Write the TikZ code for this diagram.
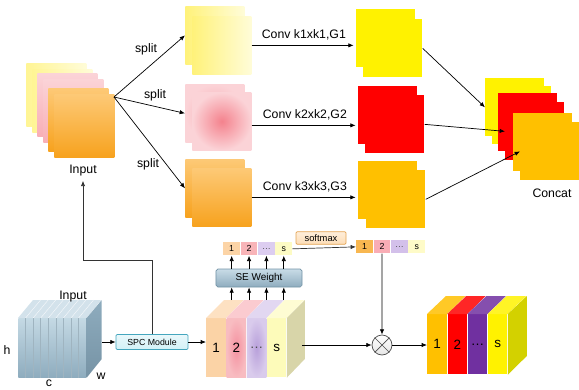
\documentclass[tikz,border=0pt]{standalone}
\usepackage{fontspec}
\setmainfont{Liberation Sans}
\usetikzlibrary{arrows.meta, positioning}
% colours
\definecolor{ylwA}{HTML}{FFF27A}
\definecolor{ylwB}{HTML}{FFFCD8}
\definecolor{pnkA}{HTML}{F4828D}
\definecolor{pnkB}{HTML}{FBD3D7}
\definecolor{orgA}{HTML}{FDC976}
\definecolor{orgB}{HTML}{F7A21E}
\definecolor{steelA}{HTML}{C4D9E4}
\definecolor{steelB}{HTML}{8EACBE}
\definecolor{steelC}{HTML}{7693A5}
\definecolor{spcfill}{HTML}{D3F1F7}
\definecolor{spcdraw}{HTML}{45A6BE}
\definecolor{sefill}{HTML}{C9DCE7}
\definecolor{sedraw}{HTML}{7393A6}
\definecolor{smaxfill}{HTML}{FDDDB6}
\definecolor{smaxdraw}{HTML}{E4A453}
\definecolor{ppl}{HTML}{7030A0}
\definecolor{gold}{HTML}{FFC000}
\definecolor{olive}{HTML}{D3D100}
\definecolor{khaki}{HTML}{D8D5A9}
\tikzset{%
  >={Latex[width=1.3mm,length=1.6mm]},
  % Specifications for style of nodes:
  base/.style = {inner sep=0pt, text centered},
  sheet/.style = {base, rectangle, anchor=north west,
    minimum width=1.77cm, minimum height=1.74cm},
  insheet/.style = {sheet, minimum width=1.8cm, minimum height=1.89cm},
  stripe/.style = {base, rectangle, minimum width=0.585cm,
    minimum height=1.77cm, font=\fontsize{11.5}{13}\selectfont},
  wbox/.style = {base, rectangle, minimum width=0.5cm,
    minimum height=0.39cm, font=\fontsize{7.5}{8}\selectfont},
  tag/.style = {base, rectangle, draw, font=\fontsize{7.5}{9}\selectfont},
}

\begin{document}
\begin{tikzpicture}[
  x=0.03cm, y=-0.03cm,
  line width=0.6pt,
  font=\fontsize{10.5}{12}\selectfont,
  node distance=0pt,
  ]
  \useasboundingbox (0,0) rectangle (579,390);
  % input stack
  \node (iny1) [insheet, left color=ylwA!80!white, right color=ylwB] at (26,63) {};
  \node (iny2) [insheet, left color=ylwA!80!white, right color=ylwB] at (32,69) {};
  \node (inp1) [insheet, top color=pnkB, bottom color=pnkA!45!pnkB] at (37,73) {};
  \node (inp2) [insheet, top color=pnkB, bottom color=pnkA!45!pnkB] at (43,79) {};
  \node (ino1) [insheet, top color=orgA, bottom color=orgB] at (48,88) {};
  \node (ino2) [insheet, top color=orgA, bottom color=orgB] at (54,94) {};
  \node (inlbl) at (83,171) {Input};
  % split groups
  \node (mid1b) [sheet, left color=ylwA, right color=ylwB] at (185,6) {};
  \node (mid1f) [sheet, left color=ylwA, right color=ylwB] at (192,16) {};
  \node (mid2b) [sheet, inner color=pnkA!50!pnkB, outer color=pnkB] at (185,84) {};
  \node (mid2f) [sheet, inner color=pnkA, outer color=pnkB] at (192,92) {};
  \node (mid3b) [sheet, top color=orgA, bottom color=orgB] at (185,159) {};
  \node (mid3f) [sheet, top color=orgA, bottom color=orgB] at (192,168) {};
  % conv outputs
  \node (out1b) [sheet, fill=yellow] at (356,9) {};
  \node (out1f) [sheet, fill=yellow] at (363,19) {};
  \node (out2b) [sheet, fill=red] at (358,86) {};
  \node (out2f) [sheet, fill=red] at (365,95) {};
  \node (out3b) [sheet, fill=gold] at (358,161) {};
  \node (out3f) [sheet, fill=gold] at (366,170) {};
  % concat
  \node (cat1b) [sheet, fill=yellow] at (485,78) {};
  \node (cat1f) [sheet, fill=yellow] at (492,86) {};
  \node (cat2b) [sheet, fill=red] at (498,93) {};
  \node (cat2f) [sheet, fill=red] at (505,102) {};
  \node (cat3b) [sheet, fill=gold] at (513,113) {};
  \node (cat3f) [sheet, fill=gold] at (520,122) {};
  \node (catlbl) at (552,193) {Concat};

  % input cube
  \node (incube) [base, rectangle, anchor=north west, minimum width=2.04cm,
    minimum height=1.77cm, top color=steelA, bottom color=steelB] at (18,318) {};
  \fill[steelA!75!white] (incube.north west) -- ++(15,-18) -- ++(2.04cm,0)
    -- (incube.north east) -- cycle;
  \shade[top color=steelB, bottom color=steelC] (incube.north east) -- ++(15,-18)
    -- ++(0,59) -- (incube.south east) -- cycle;
  \foreach \i in {1,...,8} {
    \draw[steelC!70!white, line width=0.4pt] ([xshift=\i*0.227cm]incube.north west)
      -- ([xshift=\i*0.227cm]incube.south west);
    \draw[white!80!steelA, line width=0.4pt] ([xshift=\i*0.227cm]incube.north west)
      -- ++(15,-18);
  }
  \node (cubelbl) at (73,297) {Input};
  \node (hlbl) at (7,350) {h};
  \node (clbl) at (49,383) {c};
  \node (wlbl) at (101,376) {w};
  \coordinate (incubeR) at (102,342);
  \node (spc) [tag, minimum width=2.16cm, minimum height=0.45cm, draw=spcdraw,
    top color=spcfill!50!white, bottom color=spcfill, rounded corners=1pt] at (152,342) {SPC Module};

  % middle cube
  \node (m1) [stripe, anchor=north west, fill={rgb,255:red,251;green,211;blue,166}] at (206,318) {1};
  \node (m2) [stripe, right=of m1, inner color={rgb,255:red,244;green,145;blue,160},
    outer color={rgb,255:red,248;green,188;blue,193}] {2};
  \node (m3) [stripe, right=of m2, inner color={rgb,255:red,184;green,160;blue,218},
    outer color={rgb,255:red,217;green,203;blue,236}, text=gray!60!black] {\dots};
  \node (m4) [stripe, right=of m3, fill={rgb,255:red,253;green,251;blue,186}] {s};
  \foreach \s/\c in {m1/FDE1C2, m2/FBCBD0, m3/E2D7F1, m4/FEFCD3} {
    \definecolor{tmp}{HTML}{\c}
    \fill[tmp] (\s.north west) -- ++(18,-18) -- ++(0.585cm,0) -- (\s.north east) -- cycle;
  }
  \fill[khaki] (m4.north east) -- ++(18,-18) -- ++(0,59) -- (m4.south east) -- cycle;
  \coordinate (mtop) at (224,300);
  \coordinate (mcubeR) at (302,345);

  % weights
  \node (se) [tag, minimum width=2.58cm, minimum height=0.54cm, draw=sedraw,
    top color=sefill, bottom color=steelB, rounded corners=1.5pt,
    font=\fontsize{8.5}{10}\selectfont] at (259,278) {SE Weight};
  \node (w1) [wbox, anchor=north west, fill={rgb,255:red,252;green,212;blue,166}] at (223,242) {1};
  \node (w2) [wbox, right=of w1, fill={rgb,255:red,248;green,180;blue,184}] {2};
  \node (w3) [wbox, right=of w2, fill={rgb,255:red,220;green,205;blue,240}, text=gray!60!black] {\dots};
  \node (w4) [wbox, right=of w3, fill={rgb,255:red,253;green,251;blue,196}] {s};
  \node (smax) [tag, minimum width=1.5cm, minimum height=0.38cm, draw=smaxdraw,
    top color=smaxfill!50!white, bottom color=smaxfill, rounded corners=1pt,
    font=\fontsize{8}{10}\selectfont] at (321,238) {softmax};
  \node (v1) [wbox, anchor=north west, fill={rgb,255:red,248;green,183;blue,80}] at (356,240) {1};
  \node (v2) [wbox, right=of v1, fill={rgb,255:red,249;green,173;blue,181}] {2};
  \node (v3) [wbox, right=of v2, fill={rgb,255:red,211;green,192;blue,234}, text=gray!60!black] {\dots};
  \node (v4) [wbox, right=of v3, fill={rgb,255:red,254;green,251;blue,200}] {s};
  \node (mul) [circle, draw=gray!60!black, minimum size=0.6cm, inner sep=0pt,
    top color=white, bottom color=gray!20] at (382,345) {};
  \draw[gray!60!black] (mul.north east) -- (mul.south west)
    (mul.north west) -- (mul.south east);

  % output cube
  \node (o1) [stripe, anchor=north west, minimum height=1.8cm, fill=gold] at (427,314) {1};
  \node (o2) [stripe, right=of o1, minimum height=1.8cm, fill=red] {2};
  \node (o3) [stripe, right=of o2, minimum height=1.8cm, fill=ppl] {\dots};
  \node (o4) [stripe, right=of o3, minimum height=1.8cm, fill=yellow] {s};
  \foreach \s/\c in {o1/gold, o2/red, o3/ppl, o4/yellow}
    \fill[\c!85!white] (\s.north west) -- ++(19,-18) -- ++(0.585cm,0)
      -- (\s.north east) -- cycle;
  \fill[olive] (o4.north east) -- ++(19,-18) -- ++(0,60) -- (o4.south east) -- cycle;

  % lines
  \coordinate (splitpt) at (114,97);
  \draw[->] (splitpt) -- (mid1b.west);
  \draw[->] (splitpt) -- (mid2b.west);
  \draw[->] (splitpt) -- (mid3b.west);
  \node (sp1) at (146,49) {split};
  \node (sp2) at (155,95) {split};
  \node (sp3) at (148,164) {split};
  \coordinate (conv2) at ([yshift=-1.2mm]mid2f.east);
  \draw[->, shorten >=2pt] (mid1f.east) -- (out1b.west |- mid1f.east)
    node[midway, above=1pt] {Conv k1xk1,G1};
  \draw[->, shorten >=2pt] (conv2) -- (out2b.west |- conv2)
    node[midway, above=1pt] {Conv k2xk2,G2};
  \draw[->, shorten >=2pt] (mid3f.east) -- (out3b.west |- mid3f.east)
    node[midway, above=1pt] {Conv k3xk3,G3};
  \draw[->] (out1f.east) -- (cat1b.west);
  \draw[->] (out2f.east) -- (cat2f.west);
  \draw[->] (out3f.east) -- (cat3f.west);
  \coordinate (bend) at (83,260);
  \draw[->, gray!40!black] (spc.north) |- (bend) -- (inlbl.south);
  \draw[->] (incubeR) -- (spc.west);
  \draw[->] (spc.east) -- (m1.west |- spc.east);
  \foreach \w in {w1,w2,w3,w4} {
    \draw[->] (\w |- mtop) -- (\w |- se.south);
    \draw[->] (\w |- se.north) -- (\w.south);
  }
  \draw[->, gray!40!black] (w4.east) -- (v1.west);
  \draw[->] (v2.south) -- (mul.north);
  \draw[->] (mcubeR) -- (mul.west);
  \draw[->] (mul.east) -- (o1.west |- mul.east);
\end{tikzpicture}
\end{document}
